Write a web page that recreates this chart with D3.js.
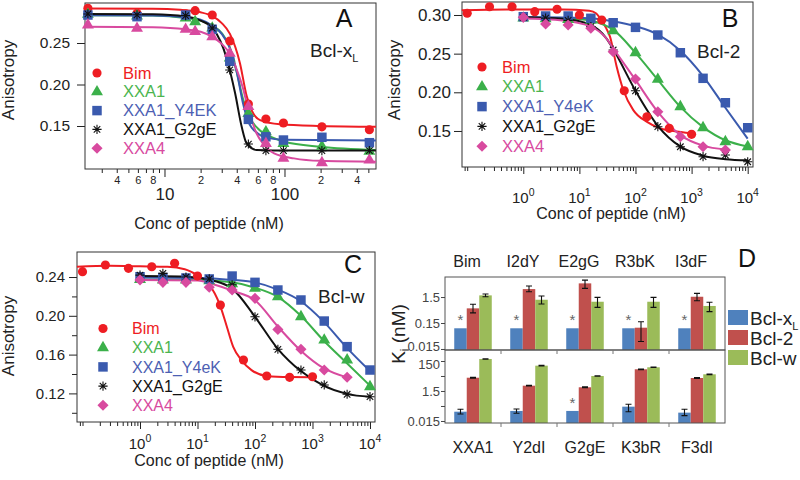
<!DOCTYPE html>
<html><head><meta charset="utf-8">
<script src="https://cdn.jsdelivr.net/npm/d3@7"></script>
<style>
body{margin:0;background:#fff;}
svg{font-family:"Liberation Sans",Arial,Helvetica,sans-serif;}
</style></head><body>
<svg id="fig" width="800" height="480"></svg>
<script>
// ---------------- DATA ----------------
const seriesA = ["Bim","XXA1","XXA1_Y4EK","XXA1_G2gE","XXA4"];
const seriesBC = ["Bim","XXA1","XXA1_Y4eK","XXA1_G2gE","XXA4"];

// Panel A (Bcl-xL)
const concA = [2.3,5.9,15,18,25,35,50,70,98,205,510];
const A_Bim  = [0.2918,0.2858,0.2850,0.2890,0.2837,0.2524,0.1765,0.1584,0.1536,0.1490,0.1455];
const A_XXA1 = [0.2845,0.2825,0.2800,0.2757,0.2680,0.2320,0.1650,0.1430,0.1290,0.1255,0.1195];
const A_Y4EK = [0.2837,0.2817,0.2837,null,0.2665,0.2280,0.1580,0.1370,0.1331,0.1364,0.1299];
const A_G2gE = [0.2850,0.2840,0.2830,null,0.2680,0.2175,0.1283,0.1203,0.1203,0.1203,0.1203];
const A_XXA4 = [0.2717,0.2677,0.2665,0.2637,0.2576,0.2376,0.1733,0.1290,0.1110,0.1058,0.1090];
const A_Bim_fit  = [[2.2,0.2915],[8,0.2912],[13.5,0.290],[20,0.287],[25.3,0.282],[30,0.274],[35.1,0.261],[42.5,0.226],[48.4,0.186],[53.2,0.169],[62.6,0.157],[91.6,0.152],[204,0.150],[578,0.149]];
const A_XXA1_fit = [[2.2,0.2835],[8,0.283],[15,0.280],[20,0.277],[25,0.271],[30,0.262],[35,0.245],[40,0.215],[45,0.183],[50,0.163],[60,0.147],[80,0.136],[100,0.131],[200,0.125],[578,0.121]];
const A_Y4EK_fit = [[2.2,0.2835],[8,0.2832],[15,0.281],[20,0.278],[25,0.271],[30,0.261],[35,0.244],[40,0.215],[45,0.178],[50,0.155],[60,0.141],[70,0.136],[100,0.1335],[578,0.1325]];
const A_G2gE_fit = [[2.2,0.285],[8,0.2845],[15,0.282],[20,0.277],[25.5,0.267],[32.9,0.232],[38.7,0.19],[44,0.149],[48.4,0.129],[58.6,0.121],[80,0.1205],[578,0.1205]];
const A_XXA4_fit = [[2.2,0.2695],[8,0.269],[15,0.2665],[20,0.2635],[25,0.2575],[30,0.249],[35,0.237],[40,0.218],[45,0.196],[48.4,0.178],[58.6,0.141],[66,0.129],[82,0.117],[120,0.111],[200,0.108],[578,0.107]];
const A_xMajor = [10,100];
const A_xMinor = [3,4,5,6,7,8,9,20,30,40,50,60,70,80,90,200,300,400,500];
const A_xMinorLabeled = [4,6,8,20,40,60,80,200,400];
const A_yTicks = [0.15,0.20,0.25];

// Panels B (Bcl-2) and C (Bcl-w)
const concBim = [0.1,0.25,0.63,1.6,4,10,25,63,160,400,1000];
const concPep = [1,2.5,6.3,16,40,100,250,630,1600,4000,10000];
const B_Bim  = [0.3022,0.3107,0.3107,0.3043,0.3074,0.3000,0.2935,0.2020,0.1684,0.1534,0.1457];
const B_XXA1 = [0.2960,0.2950,0.2940,0.2930,0.2797,0.2512,0.2168,0.1814,0.1542,0.1361,0.1296];
const B_Y4eK = [0.2978,0.2987,0.2987,0.2957,0.2900,0.2840,0.2741,0.2512,0.2181,0.1865,0.1542];
const B_G2gE = [0.2970,0.2960,0.2930,0.2850,0.2547,0.2020,0.1555,0.1296,0.1167,0.1189,0.1102];
const B_XXA4 = [0.2970,0.2884,0.2871,0.2828,0.2525,0.2172,0.1749,0.1426,0.1296,0.1254];
const B_Bim_fit  = [[0.08,0.306],[0.5,0.307],[5,0.3072],[15,0.3055],[20,0.302],[23.3,0.296],[30,0.283],[35.1,0.272],[46.2,0.233],[60.6,0.203],[91.4,0.177],[158,0.162],[273,0.1534],[472,0.150],[1000,0.147]];
const B_XXA1_fit = [[1,0.296],[10,0.2945],[20,0.291],[40,0.281],[100,0.251],[254,0.2155],[624,0.1815],[1600,0.155],[4000,0.138],[10000,0.130]];
const B_Y4eK_fit = [[1,0.2975],[10,0.2965],[40,0.292],[100,0.2855],[254,0.2745],[624,0.254],[1600,0.221],[4000,0.180],[10000,0.140]];
const B_G2gE_fit = [[1,0.297],[5,0.295],[16,0.287],[30,0.27],[40,0.256],[100,0.202],[254,0.156],[624,0.130],[1600,0.118],[4000,0.1135],[10000,0.112]];
const B_XXA4_fit = [[1,0.2955],[5,0.293],[16,0.285],[30,0.27],[40,0.257],[100,0.216],[254,0.174],[624,0.145],[1600,0.131],[4000,0.126]];
const B_yTicks = [0.15,0.20,0.25,0.30];

const C_Bim  = [0.2455,0.2524,0.2490,0.2506,0.2541,0.2410,0.2111,0.1544,0.1379,0.1366,0.1372];
const C_XXA1 = [0.2375,0.2370,0.2370,0.2360,0.2330,0.2285,0.2197,0.1991,0.1750,0.1544,0.1269];
const C_Y4eK = [0.2403,0.2395,0.2390,0.2380,0.2410,0.2345,0.2266,0.2163,0.1946,0.1682,0.1441];
const C_G2gE = [0.2420,0.2438,0.2400,0.2380,0.2320,0.1990,0.1655,0.1441,0.1287,0.1191,0.1166];
const C_XXA4 = [0.2370,0.2345,0.2345,0.2294,0.2266,0.2180,0.1860,0.1655,0.1441,0.1366];
const C_Bim_fit  = [[0.08,0.2505],[0.3,0.2515],[1,0.251],[3,0.2505],[6,0.248],[9.8,0.242],[15.4,0.2335],[24.6,0.211],[32.3,0.189],[41.8,0.168],[58,0.1544],[87,0.144],[160,0.138],[400,0.1368],[993,0.1366]];
const C_XXA1_fit = [[1,0.2375],[10,0.237],[40,0.2345],[100,0.229],[249,0.2195],[627,0.2],[1560,0.1745],[3970,0.151],[10000,0.128]];
const C_Y4eK_fit = [[1,0.2395],[10,0.239],[40,0.237],[100,0.2345],[249,0.227],[627,0.215],[1560,0.194],[3970,0.167],[10000,0.143]];
const C_G2gE_fit = [[1,0.241],[5,0.2405],[15,0.2375],[40,0.228],[100,0.199],[249,0.166],[627,0.143],[1560,0.128],[3970,0.1195],[10000,0.1165]];
const C_XXA4_fit = [[1,0.237],[10,0.2365],[20,0.232],[40,0.226],[100,0.216],[249,0.189],[627,0.164],[1560,0.146],[3970,0.1365]];
const C_yTicks = [0.12,0.16,0.20,0.24];
const C_yMinor = [0.10,0.14,0.18,0.22];
const BC_xMajor = [1,10,100,1000,10000];

// Panel D (Ki, nM)
const dTopLabels = ["Bim","I2dY","E2gG","R3bK","I3dF"];
const dBotLabels = ["XXA1","Y2dI","G2gE","K3bR","F3dI"];
const dProteins = ["Bcl-xL","Bcl-2","Bcl-w"];
const dTop_xL = [0.094,0.094,0.094,0.094,0.094];
const dTop_2 = [0.55,3.04,5.04,0.099,1.54];
const dTop_2lo = [0.37,2.4,3.24,0.029,1.08];
const dTop_2hi = [0.79,3.97,6.7,0.168,2.08];
const dTop_w = [1.74,1.18,0.99,0.99,0.68];
const dTop_wlo = [1.54,0.81,0.60,0.60,0.41];
const dTop_whi = [1.96,1.64,1.46,1.46,0.94];
const dTop_star = [1,1,1,1,1];
const dBot_xL = [0.0625,0.070,0.070,0.135,0.054];
const dBot_xLlo = [0.044,0.049,null,0.0625,0.034];
const dBot_xLhi = [0.090,0.095,null,0.195,0.090];
const dBot_2 = [11.5,3.38,2.65,42,11.0];
const dBot_2lo = [10.8,3.2,2.5,40,10.3];
const dBot_2hi = [12.3,3.6,2.8,44,11.7];
const dBot_w = [204,73,15,57,19.4];
const dBot_wlo = [196,70,14.3,55,18.6];
const dBot_whi = [212,76,15.7,59,20.2];
const dBot_star = [0,0,1,0,0];
const dTopTicks = [0.015,0.15,1.5];
const dTopTickLabels = ["0.015","0.15","1.5"];
const dBotTicks = [0.015,0.15,1.5,15,150];
const dBotTickLabels = ["0.015","","1.5","","150"];

// ---------------- DRAWING ----------------
const FONT = "'Liberation Sans', Arial, Helvetica, sans-serif";
const svg = d3.select("#fig");
const styles = [
  {color:"#EE1D23", text:"#EE1D23", shape:"circle"},
  {color:"#3BB04A", text:"#4CB54F", shape:"triangle"},
  {color:"#3A5AAE", text:"#4D5FB3", shape:"square"},
  {color:"#111111", text:"#111111", shape:"asterisk"},
  {color:"#D84A9F", text:"#D84A9F", shape:"diamond"}
];

function symPath(shape){
  if(shape==="asterisk"){
    const r=4.6, a=r*Math.SQRT1_2;
    return `M${-r},0L${r},0M0,${-r}L0,${r}M${-a},${-a}L${a},${a}M${-a},${a}L${a},${-a}`;
  }
  const t={circle:[d3.symbolCircle,66],square:[d3.symbolSquare,90],triangle:[d3.symbolTriangle,62],diamond:[d3.symbolSquare,62]}[shape];
  return d3.symbol(t[0],t[1])();
}
function drawMarker(g, shape, color, cx, cy){
  const p=g.append("path").attr("d",symPath(shape))
    .attr("transform",`translate(${cx},${cy})`+(shape==="diamond"?" rotate(45)":""));
  if(shape==="asterisk") p.attr("fill","none").attr("stroke",color).attr("stroke-width",1.1);
  else p.attr("fill",color);
}
function styleAxis(sel, fs, col){
  sel.attr("font-family",FONT).attr("font-size",fs);
  sel.select(".domain").remove();
  sel.selectAll("line").attr("stroke",col||"#222");
  sel.selectAll("text").attr("fill",col||"#222");
}

function curvePanel(p){
  const g=svg.append("g");
  const x=d3.scaleLog().domain(p.xDomain).range([p.L,p.R]);
  const y=d3.scaleLinear().domain(p.yDomain).range([p.B,p.T]);
  // y axis
  const ya=g.append("g").attr("transform",`translate(${p.L},0)`)
    .call(d3.axisLeft(y).tickValues(p.yTicks).tickSize(8).tickPadding(p.yPad).tickFormat(d3.format(".2f")));
  styleAxis(ya,p.yFont);
  if(p.yMinor){
    const ym=g.append("g").attr("transform",`translate(${p.L},0)`)
      .call(d3.axisLeft(y).tickValues(p.yMinor).tickSize(5).tickFormat(""));
    styleAxis(ym,10);
  }
  // x axis
  if(p.kind==="A"){
    const xm=g.append("g").attr("transform",`translate(0,${p.B})`)
      .call(d3.axisBottom(x).tickValues(A_xMinor).tickSize(4).tickPadding(3)
        .tickFormat(d=>A_xMinorLabeled.includes(d)?String(d).charAt(0):""));
    styleAxis(xm,11);
    const xM=g.append("g").attr("transform",`translate(0,${p.B})`)
      .call(d3.axisBottom(x).tickValues(A_xMajor).tickSize(8).tickPadding(11).tickFormat(d3.format("d")));
    styleAxis(xM,17);
  } else {
    const minors=x.ticks().filter(d=>!BC_xMajor.includes(d));
    const xm=g.append("g").attr("transform",`translate(0,${p.B})`)
      .call(d3.axisBottom(x).tickValues(minors).tickSize(4).tickFormat(""));
    styleAxis(xm,10);
    const xM=g.append("g").attr("transform",`translate(0,${p.B})`)
      .call(d3.axisBottom(x).tickValues(BC_xMajor).tickSize(7).tickFormat(""));
    styleAxis(xM,10);
    const labs=g.selectAll("text.xl").data(BC_xMajor).join("text")
      .attr("class","xl").attr("x",d=>x(d)).attr("y",p.B+p.labOff)
      .attr("text-anchor","middle").attr("font-family",FONT).attr("font-size",15).attr("fill","#222");
    labs.append("tspan").text("10");
    labs.append("tspan").attr("font-size",10.5).attr("dy",-7).text(d=>Math.round(Math.log10(d)));
  }
  // frame
  g.append("rect").attr("x",p.L).attr("y",p.T).attr("width",p.R-p.L).attr("height",p.B-p.T)
    .attr("fill","none").attr("stroke","#333").attr("stroke-width",1);
  // curves + points
  const line=d3.line().x(d=>x(d[0])).y(d=>y(d[1])).curve(d3.curveMonotoneX);
  p.series.forEach((s,i)=>{
    g.append("path").attr("d",line(s.fit)).attr("fill","none")
      .attr("stroke",styles[i].color).attr("stroke-width",2);
  });
  p.series.forEach((s,i)=>{
    const shape=s.shape||styles[i].shape;
    s.vals.forEach((v,k)=>{ if(v!=null) drawMarker(g,shape,styles[i].color,x(s.conc[k]),y(v)); });
  });
  // legend
  p.names.forEach((n,i)=>{
    const cy=p.legY+i*p.legStep;
    drawMarker(g,styles[i].shape,styles[i].color,p.legMX,cy);
    g.append("text").attr("x",p.legTX).attr("y",cy+5.6).attr("font-family",FONT)
      .attr("font-size",p.legFont).attr("fill",styles[i].text).text(n);
  });
  // titles
  g.append("text").attr("x",p.titleX).attr("y",p.titleY).attr("text-anchor","middle")
    .attr("font-family",FONT).attr("font-size",16).attr("fill","#222").text("Conc of peptide (nM)");
  g.append("text").attr("transform",`translate(${p.ylabX},${p.ylabY}) rotate(-90)`).attr("text-anchor","middle")
    .attr("font-family",FONT).attr("font-size",17).attr("fill","#222").text("Anisotropy");
  g.append("text").attr("x",p.letX).attr("y",p.letY).attr("text-anchor","middle")
    .attr("font-family",FONT).attr("font-size",25).attr("fill","#111").text(p.letter);
  const pt=g.append("text").attr("x",p.protX).attr("y",p.protY).attr("font-family",FONT)
    .attr("font-size",19).attr("fill","#222").text(p.prot);
  if(p.protSub) pt.append("tspan").attr("font-size",11).attr("dy",5).text(p.protSub);
}

curvePanel({kind:"A",L:85,R:376,T:3,B:169,xDomain:[2.175,579],yDomain:[0.0982,0.2982],
  yTicks:A_yTicks,yPad:7,yFont:15.5,
  series:[
    {conc:concA,vals:A_Bim,fit:A_Bim_fit},
    {conc:concA,vals:A_XXA1,fit:A_XXA1_fit},
    {conc:concA,vals:A_Y4EK,fit:A_Y4EK_fit},
    {conc:concA,vals:A_G2gE,fit:A_G2gE_fit},
    {conc:concA,vals:A_XXA4,fit:A_XXA4_fit,shape:"triangle"}],
  names:seriesA,legY:73,legStep:18.8,legMX:97,legTX:123,legFont:16.5,
  titleX:209,titleY:229,ylabX:13.5,ylabY:80,letter:"A",letX:344,letY:27,
  prot:"Bcl-x",protSub:"L",protX:310,protY:57});

curvePanel({kind:"B",L:462,R:753,T:2,B:167,xDomain:[0.0808,12430],yDomain:[0.1034,0.3168],
  yTicks:B_yTicks,yPad:3,yFont:17,labOff:36,
  series:[
    {conc:concBim,vals:B_Bim,fit:B_Bim_fit},
    {conc:concPep,vals:B_XXA1,fit:B_XXA1_fit},
    {conc:concPep,vals:B_Y4eK,fit:B_Y4eK_fit},
    {conc:concPep,vals:B_G2gE,fit:B_G2gE_fit},
    {conc:concPep,vals:B_XXA4,fit:B_XXA4_fit}],
  names:seriesBC,legY:67,legStep:19.8,legMX:482,legTX:502,legFont:16.5,
  titleX:611,titleY:219,ylabX:400,ylabY:80,letter:"B",letX:730,letY:27,
  prot:"Bcl-2",protX:697,protY:58});

curvePanel({kind:"C",L:77,R:375,T:252,B:422,xDomain:[0.0802,12220],yDomain:[0.0905,0.2658],
  yTicks:C_yTicks,yMinor:C_yMinor,yPad:4,yFont:15,labOff:27,
  series:[
    {conc:concBim,vals:C_Bim,fit:C_Bim_fit},
    {conc:concPep,vals:C_XXA1,fit:C_XXA1_fit},
    {conc:concPep,vals:C_Y4eK,fit:C_Y4eK_fit},
    {conc:concPep,vals:C_G2gE,fit:C_G2gE_fit},
    {conc:concPep,vals:C_XXA4,fit:C_XXA4_fit}],
  names:seriesBC,legY:328.5,legStep:19.2,legMX:103,legTX:132,legFont:16,
  titleX:209,titleY:466,ylabX:14,ylabY:336,letter:"C",letX:353,letY:273,
  prot:"Bcl-w",protX:318,protY:303});

// ---------- Panel D ----------
(function(){
  const g=svg.append("g");
  const L=445,R=725,T1=277,M=350,B2=423;
  const dCol=["#4F81BD","#C0504D","#9BBB59"];
  const gx=d3.scaleBand().domain(d3.range(5)).range([L,R]).paddingInner(0.33).paddingOuter(0.165);
  const ix=d3.scaleBand().domain(dProteins).range([0,gx.bandwidth()]);
  const yT=d3.scaleLog().domain([0.0137,8.87]).range([M,T1]);
  const yB=d3.scaleLog().domain([0.011,810]).range([B2,M]);

  function block(yS,base,vals,stars){
    vals.forEach((s,si)=>{
      s.v.forEach((v,k)=>{
        const x0=gx(k)+ix(dProteins[si]);
        g.append("rect").attr("x",x0).attr("y",yS(v)).attr("width",ix.bandwidth())
          .attr("height",base-yS(v)).attr("fill",dCol[si]);
        if(s.lo && s.lo[k]!=null){
          const cx=x0+ix.bandwidth()/2;
          g.append("path").attr("d",`M${cx},${yS(s.lo[k])}V${yS(s.hi[k])}M${cx-3},${yS(s.lo[k])}H${cx+3}M${cx-3},${yS(s.hi[k])}H${cx+3}`)
            .attr("stroke","#111").attr("stroke-width",1.1).attr("fill","none");
        }
        if(si===0 && stars[k]){
          g.append("text").attr("x",x0+ix.bandwidth()/2).attr("y",yS(v)-3).attr("text-anchor","middle")
            .attr("font-family",FONT).attr("font-size",15).attr("fill","#666").text("*");
        }
      });
    });
  }
  block(yT,M,[{v:dTop_xL},{v:dTop_2,lo:dTop_2lo,hi:dTop_2hi},{v:dTop_w,lo:dTop_wlo,hi:dTop_whi}],dTop_star);
  block(yB,B2,[{v:dBot_xL,lo:dBot_xLlo,hi:dBot_xLhi},{v:dBot_2,lo:dBot_2lo,hi:dBot_2hi},{v:dBot_w,lo:dBot_wlo,hi:dBot_whi}],dBot_star);

  // frames
  g.append("rect").attr("x",L).attr("y",T1).attr("width",R-L).attr("height",M-T1).attr("fill","none").attr("stroke","#555");
  g.append("rect").attr("x",L).attr("y",M).attr("width",R-L).attr("height",B2-M).attr("fill","none").attr("stroke","#555");
  // group separator ticks
  const bounds=d3.range(1,5).map(k=>gx(k)-(gx.step()-gx.bandwidth())/2);
  [M,B2].forEach(yy=>{
    g.selectAll(null).data(bounds).join("line").attr("x1",d=>d).attr("x2",d=>d)
      .attr("y1",yy).attr("y2",yy+4).attr("stroke","#777");
  });
  // y axes
  const at=g.append("g").attr("transform",`translate(${L},0)`)
    .call(d3.axisLeft(yT).tickValues(dTopTicks).tickSize(4).tickPadding(1).tickFormat((d,i)=>dTopTickLabels[i]));
  styleAxis(at,13,"#444");
  at.selectAll("text").filter((d,i)=>i===0).attr("dy","0.1em");
  const ab=g.append("g").attr("transform",`translate(${L},0)`)
    .call(d3.axisLeft(yB).tickValues(dBotTicks).tickSize(4).tickPadding(1).tickFormat((d,i)=>dBotTickLabels[i]));
  styleAxis(ab,13,"#444");
  ab.selectAll("text").filter((d,i)=>i===4).attr("dy","0.55em");
  // group labels
  g.selectAll("text.tl").data(dTopLabels).join("text").attr("class","tl")
    .attr("x",(d,i)=>gx(i)+gx.bandwidth()/2-6).attr("y",267).attr("text-anchor","middle")
    .attr("font-family",FONT).attr("font-size",16).attr("fill","#222").text(d=>d);
  g.selectAll("text.bl").data(dBotLabels).join("text").attr("class","bl")
    .attr("x",(d,i)=>gx(i)+gx.bandwidth()/2).attr("y",453).attr("text-anchor","middle")
    .attr("font-family",FONT).attr("font-size",16).attr("fill","#222").text(d=>d);
  // Ki label
  const kt=g.append("text").attr("transform","translate(405,334) rotate(-90)").attr("text-anchor","middle")
    .attr("font-family",FONT).attr("font-size",19).attr("fill","#222");
  kt.append("tspan").text("K");
  kt.append("tspan").attr("font-size",12).attr("dy",4).text("i");
  kt.append("tspan").attr("dy",-4).text(" (nM)");
  // letter
  g.append("text").attr("x",747).attr("y",267).attr("text-anchor","middle")
    .attr("font-family",FONT).attr("font-size",25).attr("fill","#111").text("D");
  // legend
  dProteins.forEach((n,i)=>{
    const top=310+i*20;
    g.append("rect").attr("x",728).attr("y",top).attr("width",20).attr("height",15).attr("fill",dCol[i]);
    const t=g.append("text").attr("x",750).attr("y",top+15).attr("font-family",FONT)
      .attr("font-size",19).attr("fill","#222");
    if(n==="Bcl-xL"){ t.append("tspan").text("Bcl-x"); t.append("tspan").attr("font-size",11).attr("dy",5).text("L"); }
    else t.text(n);
  });
})();
</script></body></html>
